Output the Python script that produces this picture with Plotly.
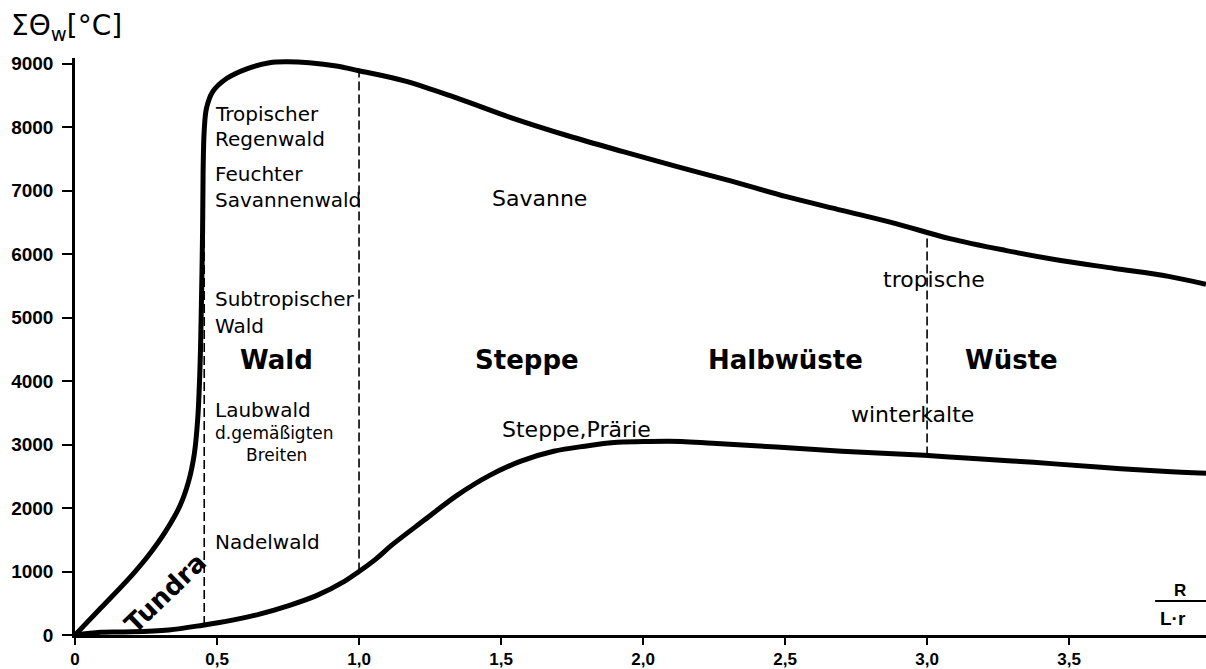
import numpy as np
import plotly.graph_objects as go

# ---------------- data ----------------
upper_x = [0.00, 0.09, 0.20, 0.26, 0.32, 0.37, 0.40, 0.42, 0.432, 0.440, 0.445, 0.449,
           0.451, 0.455, 0.463, 0.485, 0.535, 0.605, 0.685, 0.745, 0.825, 0.920, 1.000,
           1.160, 1.350, 1.545, 1.735, 1.930, 2.120, 2.315, 2.505, 2.700, 2.890, 3.080,
           3.275, 3.470, 3.660, 3.850, 3.982]
upper_y = [0, 420, 940, 1260, 1640, 2040, 2420, 2850, 3400, 4200, 5200, 6300,
           7300, 7950, 8300, 8560, 8770, 8920, 9015, 9030, 9015, 8965, 8890,
           8730, 8450, 8135, 7865, 7615, 7380, 7145, 6905, 6690, 6480, 6245,
           6060, 5900, 5775, 5650, 5525]

lower_x = [0.00, 0.09, 0.20, 0.33, 0.45, 0.55, 0.65, 0.75, 0.85, 0.95, 1.00, 1.06, 1.115,
           1.23, 1.345, 1.46, 1.57, 1.685, 1.795, 1.91, 2.02, 2.135, 2.245, 2.47, 2.70,
           2.99, 3.15, 3.375, 3.60, 3.83, 3.982]
lower_y = [0, 45, 50, 80, 155, 230, 330, 460, 620, 850, 1000, 1200, 1415,
           1810, 2200, 2515, 2740, 2895, 2975, 3035, 3050, 3050, 3020, 2960, 2895,
           2830, 2785, 2720, 2645, 2580, 2550]

boundary_x = [0.455, 1.0, 3.0]

x_tick_vals = [0, 0.5, 1.0, 1.5, 2.0, 2.5, 3.0, 3.5]
x_tick_text = ["0", "0,5", "1,0", "1,5", "2,0", "2,5", "3,0", "3,5"]
y_tick_vals = [0, 1000, 2000, 3000, 4000, 5000, 6000, 7000, 8000, 9000]
y_tick_text = ["0", "1000", "2000", "3000", "4000", "5000", "6000", "7000", "8000", "9000"]

# zone names (bold)
zone_text = ["Wald", "Steppe", "Halbwüste", "Wüste"]
zone_x = [0.709, 1.592, 2.50, 3.296]
zone_y = [4330, 4330, 4330, 4330]

# forest types, left-aligned lines
veg_text = ["Tropischer", "Regenwald", "Feuchter", "Savannenwald", "Subtropischer", "Wald",
            "Laubwald", "Nadelwald"]
veg_x = [0.486] * 8
veg_y = [8200, 7810, 7260, 6850, 5290, 4870, 3540, 1460]

small_text = ["d.gemäßigten", "Breiten"]
small_x = [0.486, 0.709]
small_y = [3180, 2840]

centre_text = ["Savanne", "tropische", "winterkalte", "Steppe,Prärie"]
centre_x = [1.637, 3.025, 2.948, 1.764]
centre_y = [6870, 5600, 3470, 3230]

# ---------------- figure ----------------
fig = go.Figure()

up_i = np.interp(boundary_x, upper_x, upper_y)
lo_i = np.interp(boundary_x, lower_x, lower_y)
for bx, y0, y1 in zip(boundary_x, lo_i, up_i):
    fig.add_trace(go.Scatter(x=[bx, bx], y=[y0, y1], mode="lines",
                             line=dict(color="black", width=1.6, dash="9px,4px"),
                             hoverinfo="skip", showlegend=False))

for xs, ys in ((upper_x, upper_y), (lower_x, lower_y)):
    fig.add_trace(go.Scatter(x=xs, y=ys, mode="lines",
                             line=dict(color="black", width=5, shape="spline", smoothing=1.0),
                             showlegend=False))

ann = []
for t, x, y in zip(zone_text, zone_x, zone_y):
    ann.append(dict(x=x, y=y, text=t, showarrow=False, xanchor="center", yanchor="middle",
                    font=dict(family="DejaVu Sans", size=26, color="black", weight="bold")))
for t, x, y in zip(veg_text, veg_x, veg_y):
    ann.append(dict(x=x, y=y, text=t, showarrow=False, xanchor="left", yanchor="middle",
                    font=dict(family="DejaVu Sans", size=20, color="black")))
ann.append(dict(x=small_x[0], y=small_y[0], text=small_text[0], showarrow=False,
                xanchor="left", yanchor="middle",
                font=dict(family="DejaVu Sans", size=17, color="black")))
ann.append(dict(x=small_x[1], y=small_y[1], text=small_text[1], showarrow=False,
                xanchor="center", yanchor="middle",
                font=dict(family="DejaVu Sans", size=17, color="black")))
for t, x, y in zip(centre_text, centre_x, centre_y):
    ann.append(dict(x=x, y=y, text=t, showarrow=False, xanchor="center", yanchor="middle",
                    font=dict(family="DejaVu Sans", size=22, color="black")))

# Tundra (rotated)
ann.append(dict(x=0.318, y=660, text="Tundra", showarrow=False, textangle=-44,
                xanchor="center", yanchor="middle",
                font=dict(family="DejaVu Sans", size=26, color="black", weight="bold")))

# axis titles
ann.append(dict(xref="paper", yref="paper", x=-0.058, y=1.088, text="ΣΘ<sub>w</sub>[°C]",
                showarrow=False, xanchor="left", yanchor="top",
                font=dict(family="DejaVu Sans", size=28, color="black")))
ann.append(dict(xref="paper", yref="paper", x=0.977, y=0.057, text="<b>R</b>",
                showarrow=False, xanchor="center", yanchor="bottom",
                font=dict(family="Liberation Sans", size=17, color="black")))
ann.append(dict(xref="paper", yref="paper", x=0.958, y=0.051, text="<b>L·r</b>",
                showarrow=False, xanchor="left", yanchor="top",
                font=dict(family="Liberation Sans", size=19, color="black")))

fig.update_layout(
    width=1206, height=669,
    margin=dict(l=75, r=0, t=58, b=34),
    paper_bgcolor="white", plot_bgcolor="white",
    annotations=ann,
    shapes=[dict(type="line", xref="paper", yref="paper", x0=0.955, x1=1.0,
                 y0=0.059, y1=0.059, line=dict(color="black", width=2))],
    xaxis=dict(range=[0, 3.982], tickvals=x_tick_vals, ticktext=x_tick_text,
               showline=True, linecolor="black", linewidth=2.5, automargin=False,
               ticks="outside", ticklen=7, tickwidth=2, tickcolor="black",
               showgrid=False, zeroline=False, ticklabelstandoff=0,
               tickfont=dict(family="Liberation Sans", size=17, color="black", weight="bold")),
    yaxis=dict(range=[0, 9090], tickvals=y_tick_vals, ticktext=y_tick_text,
               showline=True, linecolor="black", linewidth=2.5, automargin=False,
               ticks="outside", ticklen=10, tickwidth=2, tickcolor="black",
               showgrid=False, zeroline=False, ticklabelstandoff=5,
               tickfont=dict(family="Liberation Sans", size=19, color="black", weight="bold")),
)

fig.write_html("out.html", config={"displayModeBar": False},
               post_script="document.body.style.margin='0';")
